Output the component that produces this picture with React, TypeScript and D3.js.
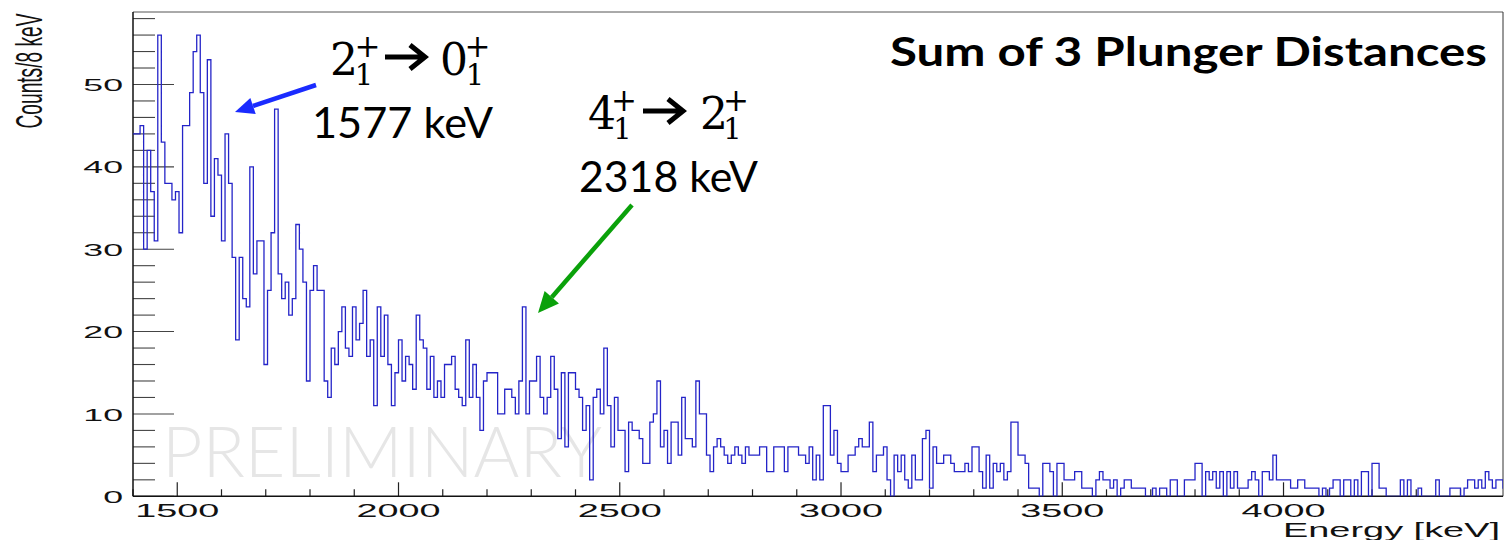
import React from "react";
import * as d3 from "d3";

// ---- data (counts per 8 keV bin) ----
const BIN_WIDTH = 8; // keV
const ENERGY_START = 1400; // keV, low edge of first bin

// 1400 - 1992 keV
const counts1400 = [
  44, 44, 45, 30, 42, 37, 31, 56, 43, 38,
  38, 36, 37, 32, 45, 45, 49, 54, 56, 49,
  38, 53, 34, 41, 39, 31, 44, 38, 29, 19,
  29, 24, 23, 40, 27, 31, 31, 16, 25, 32,
  47, 27, 24, 26, 22, 24, 33, 30, 26, 14,
  25, 28, 25, 25, 14, 12, 18, 16, 20, 23,
  18, 17, 23, 19, 21, 25, 17, 19, 11, 23,
  17, 22, 16, 11, 15,
];
// 2000 - 2592 keV
const counts2000 = [
  19, 14, 17, 16, 13, 22, 19, 18, 13, 17,
  12, 14, 12, 16, 16, 17, 13, 12, 11, 19,
  12, 16, 12, 8, 14, 15, 15, 15, 10, 10,
  13, 13, 12, 10, 14, 23, 10, 14, 14, 17,
  12, 10, 12, 17, 13, 7, 15, 6, 15, 15,
  13, 12, 8, 11, 2, 12, 13, 10, 18, 11,
  6, 12, 8, 8, 3, 9, 8, 8, 7, 4,
  4, 9, 10, 14, 6,
];
// 2600 - 3192 keV
const counts2600 = [
  8, 4, 9, 9, 5, 12, 7, 7, 6, 14,
  10, 10, 5, 3, 6, 7, 6, 5, 4, 5,
  6, 5, 4, 6, 5, 5, 5, 6, 6, 3,
  3, 6, 6, 6, 3, 6, 6, 6, 5, 5,
  4, 6, 2, 5, 2, 11, 11, 5, 8, 4,
  3, 3, 5, 5, 6, 7, 6, 6, 9, 3,
  5, 5, 6, 2, 0, 5, 3, 5, 2, 1,
  5, 2, 2, 7, 8,
];
// 3200 - 3792 keV
const counts3200 = [
  1, 6, 4, 4, 5, 5, 4, 3, 3, 3,
  4, 3, 6, 6, 3, 1, 5, 1, 4, 3,
  4, 2, 3, 9, 9, 5, 5, 4, 1, 1,
  1, 0, 4, 4, 3, 0, 4, 4, 2, 2,
  2, 3, 3, 1, 1, 1, 0, 2, 3, 2,
  2, 1, 2, 0, 1, 2, 2, 1, 1, 1,
  1, 0, 0, 1, 0, 1, 1, 0, 2, 2,
  0, 0, 2, 2, 2,
];
// 3800 - 4496 keV
const counts3800 = [
  4, 4, 0, 3, 2, 3, 1, 3, 0, 3,
  1, 3, 1, 1, 1, 2, 3, 2, 0, 3,
  3, 2, 5, 2, 2, 2, 2, 1, 1, 2,
  2, 1, 1, 1, 1, 0, 1, 0, 1, 2,
  2, 0, 2, 2, 0, 2, 0, 3, 3, 0,
  4, 4, 1, 1, 0, 0, 0, 0, 2, 0,
  2, 0, 0, 1, 0, 0, 0, 0, 2, 0,
  0, 0, 1, 1, 1, 0, 1, 2, 2, 1,
  2, 1, 3, 2, 1, 2, 2, 1,
];

const counts = [...counts1400, ...counts2000, ...counts2600, ...counts3200, ...counts3800];

const xDomain = [1400, 4496];
const yDomain = [0, 58.8];
const xMajorTicks = [1500, 2000, 2500, 3000, 3500, 4000];
const yMajorTicks = [0, 10, 20, 30, 40, 50];

const xTitle = "Energy [keV]";
const yTitle = "Counts/8 keV";
const plotTitle = "Sum of 3 Plunger Distances";
const watermark = "PRELIMINARY";
const peak1Energy = "1577 keV";
const peak2Energy = "2318 keV";

// ---- layout ----
const W = 1507;
const H = 540;
const L = 133;
const R = 1503;
const T = 12;
const B = 496.3;

function arrowParts(x1: number, y1: number, x2: number, y2: number, len: number, half: number) {
  const dx = x2 - x1;
  const dy = y2 - y1;
  const d = Math.hypot(dx, dy);
  const ux = dx / d;
  const uy = dy / d;
  const bx = x2 - ux * len;
  const by = y2 - uy * len;
  const nx = -uy;
  const ny = ux;
  return {
    line: `M${x1},${y1}L${bx},${by}`,
    head: `M${x2},${y2}L${bx + nx * half},${by + ny * half}L${bx - nx * half},${by - ny * half}Z`,
  };
}

function MathLabel({ x, base, main1, main2 }: { x: number[]; base: number; main1: string; main2: string }) {
  // x = [firstDigit, plus1Center, sub1Center, arrowStart, arrowEnd, secondDigit, plus2Center, sub2Center]
  const serif = "'DejaVu Serif', 'Liberation Serif', serif";
  const ay = base - 18;
  return (
    <g fill="#000">
      <text x={x[0]} y={base} fontFamily={serif} fontSize={44}>{main1}</text>
      <text x={x[1]} y={base - 18} fontFamily={serif} fontSize={31} textAnchor="middle">+</text>
      <text x={x[2]} y={base + 10} fontFamily={serif} fontSize={29} textAnchor="middle">1</text>
      <path
        d={`M${x[3]},${ay}L${x[4] - 2},${ay}M${x[4] - 15},${ay - 12}L${x[4]},${ay}L${x[4] - 15},${ay + 12}`}
        stroke="#000"
        strokeWidth={5}
        fill="none"
        strokeLinejoin="miter"
      />
      <text x={x[5]} y={base} fontFamily={serif} fontSize={44}>{main2}</text>
      <text x={x[6]} y={base - 18} fontFamily={serif} fontSize={31} textAnchor="middle">+</text>
      <text x={x[7]} y={base + 10} fontFamily={serif} fontSize={29} textAnchor="middle">1</text>
    </g>
  );
}

export default function App() {
  const x = d3.scaleLinear().domain(xDomain).range([L, R]);
  const y = d3.scaleLinear().domain(yDomain).range([B, T]);

  const pts: [number, number][] = [];
  counts.forEach((c, i) => {
    const e0 = ENERGY_START + i * BIN_WIDTH;
    pts.push([x(e0), y(c)]);
    pts.push([x(e0 + BIN_WIDTH), y(c)]);
  });
  const histPath = d3.line()(pts) || "";

  const xMinor = d3.range(1400, 4500, 100).filter((v) => !xMajorTicks.includes(v));
  const yMinor = d3.range(0, 58.8, 2).filter((v) => v % 10 !== 0);

  const blue = arrowParts(316, 85, 235, 112, 19, 8.5);
  const green = arrowParts(632, 205, 538, 313, 21, 9.5);

  const sans = "'Liberation Sans', Arial, Helvetica, sans-serif";
  const calib = "Lato, 'Open Sans', sans-serif";
  const sx = 2.1;

  return (
    <div style={{ position: "absolute", left: 0, top: 0 }}>
      <svg width={W} height={H} viewBox={`0 0 ${W} ${H}`} style={{ display: "block", background: "#fff" }}>
        <defs>
          <clipPath id="frameClip">
            <rect x={L} y={T} width={R - L} height={B - T} />
          </clipPath>
        </defs>

        {/* watermark */}
        <text
          x={162}
          y={476.5}
          fontFamily={calib}
          fontWeight={300}
          fontSize={71}
          fill="#e6e6e6"
          textLength={440}
          lengthAdjust="spacingAndGlyphs"
        >
          {watermark}
        </text>

        {/* frame */}
        <line x1={L} y1={T} x2={R} y2={T} stroke="#555" strokeWidth={1} />
        <line x1={R} y1={T} x2={R} y2={B} stroke="#333" strokeWidth={1} />

        {/* y ticks */}
        {yMinor.map((v) => (
          <line key={"ym" + v} x1={L} x2={L + 22} y1={y(v)} y2={y(v)} stroke="#444" strokeWidth={1.1} />
        ))}
        {yMajorTicks.map((v) => (
          <line key={"yM" + v} x1={L} x2={L + 41} y1={y(v)} y2={y(v)} stroke="#444" strokeWidth={1.1} />
        ))}
        {yMajorTicks.map((v) => (
          <text
            key={"yl" + v}
            transform={`translate(123,${y(v) + 6.6}) scale(${sx},1)`}
            textAnchor="end"
            fontFamily={sans}
            fontSize={17}
            fill="#111"
          >
            {v}
          </text>
        ))}

        {/* x ticks */}
        {xMinor.map((v) => (
          <line key={"xm" + v} x1={x(v)} x2={x(v)} y1={B} y2={B - 7} stroke="#222" strokeWidth={1.2} />
        ))}
        {xMajorTicks.map((v) => (
          <line key={"xM" + v} x1={x(v)} x2={x(v)} y1={B} y2={B - 14} stroke="#222" strokeWidth={1.2} />
        ))}
        {xMajorTicks.map((v) => (
          <text
            key={"xl" + v}
            transform={`translate(${x(v)},516.7) scale(${sx},1)`}
            textAnchor="middle"
            fontFamily={sans}
            fontSize={18}
            fill="#111"
          >
            {v}
          </text>
        ))}

        {/* axis lines */}
        <line x1={L} y1={T} x2={L} y2={B} stroke="#111" strokeWidth={1.5} />
        <line x1={L} y1={B} x2={R} y2={B} stroke="#111" strokeWidth={1.5} />

        {/* axis titles */}
        <text
          transform={`translate(1283,536.5) scale(1,1)`}
          fontFamily={sans}
          fontSize={21}
          fill="#111"
          textLength={217}
          lengthAdjust="spacingAndGlyphs"
        >
          {xTitle}
        </text>
        <text
          transform={`translate(42,128.5) scale(1.9,1) rotate(-90)`}
          fontFamily={sans}
          fontSize={19}
          fill="#111"
          textLength={115}
          lengthAdjust="spacingAndGlyphs"
        >
          {yTitle}
        </text>

        {/* histogram */}
        <path d={histPath} fill="none" stroke="#2424c8" strokeWidth={1.3} clipPath="url(#frameClip)" />

        {/* title */}
        <text
          x={890}
          y={66}
          fontFamily={calib}
          fontWeight={700}
          fontSize={40}
          fill="#000"
          textLength={597}
          lengthAdjust="spacingAndGlyphs"
        >
          {plotTitle}
        </text>

        {/* annotation 1 */}
        <MathLabel x={[330, 367.5, 364, 385, 425, 440, 477.5, 475]} base={75} main1="2" main2="0" />
        <text x={312} y={138} fontFamily={calib} fontSize={43} fill="#000" textLength={181} lengthAdjust="spacingAndGlyphs">
          {peak1Energy}
        </text>
        <path d={blue.line} stroke="#1a2bff" strokeWidth={4.5} fill="none" />
        <path d={blue.head} fill="#1a2bff" />

        {/* annotation 2 */}
        <MathLabel x={[588, 624, 622.5, 643, 683, 700, 736, 732.5]} base={129} main1="4" main2="2" />
        <text x={579} y={192} fontFamily={calib} fontSize={43} fill="#000" textLength={179} lengthAdjust="spacingAndGlyphs">
          {peak2Energy}
        </text>
        <path d={green.line} stroke="#0aa10a" strokeWidth={4.5} fill="none" />
        <path d={green.head} fill="#0aa10a" />
      </svg>
    </div>
  );
}
